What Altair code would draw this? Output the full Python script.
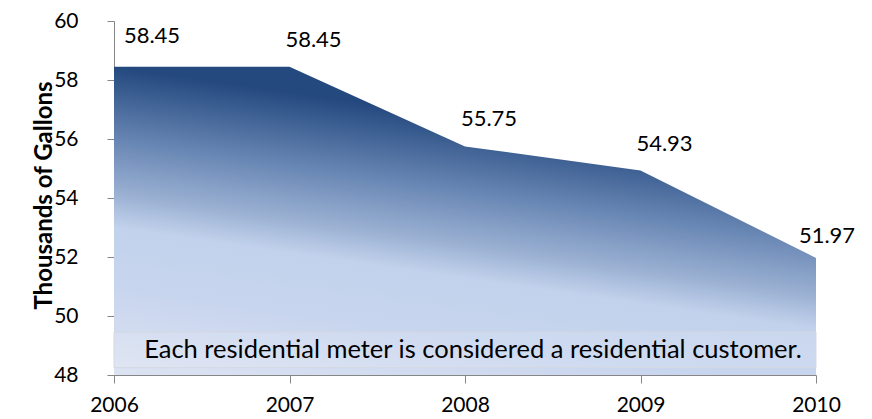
import altair as alt
import pandas as pd

years = [2006, 2007, 2008, 2009, 2010]
values = [58.45, 58.45, 55.75, 54.93, 51.97]
labels = ["58.45", "58.45", "55.75", "54.93", "51.97"]
y_ticks = [48, 50, 52, 54, 56, 58, 60]
y_title = "Thousands of Gallons"
note_text = "Each residential meter is considered a residential customer."
note_y = [48.25, 49.45]

FONT = "Lato"

df = pd.DataFrame({"year": years, "value": values, "label": labels})
note_df = pd.DataFrame({"x": [years[0]], "x2": [years[-1]], "y": [note_y[0]], "y2": [note_y[1]],
                        "xm": [(years[0] + years[-1]) / 2], "ym": [(note_y[0] + note_y[1]) / 2],
                        "text": [note_text]})

xscale = alt.Scale(domain=[years[0], years[-1]], nice=False, zero=False)
yscale = alt.Scale(domain=[y_ticks[0], y_ticks[-1]], nice=False, zero=False)

x_enc = alt.X("year:Q", scale=xscale,
              axis=alt.Axis(values=years, format="d", title=None, grid=False,
                            labelFontSize=21, labelFont=FONT, labelColor="#000000",
                            labelPadding=11, tickSize=8, tickColor="#868686",
                            domainColor="#868686", labelFlush=False))
y_enc = alt.Y("value:Q", scale=yscale,
              axis=alt.Axis(values=y_ticks, title=y_title, grid=False,
                            labelFontSize=21, labelFont=FONT, labelColor="#000000",
                            labelPadding=29, tickSize=7, tickColor="#868686",
                            domainColor="#868686",
                            titleFont=FONT, titleFontSize=24, titleFontWeight="bold",
                            titleColor="#000000", titleAngle=-90, titleX=-70, titleY=174,
                            titleAlign="center", titleBaseline="middle"))

grad = alt.Gradient(
    gradient="linear",
    stops=[
        alt.GradientStop(color="#24497F", offset=0.0),
        alt.GradientStop(color="#6A88B5", offset=0.22),
        alt.GradientStop(color="#9AB0D2", offset=0.37),
        alt.GradientStop(color="#C2D2EC", offset=0.47),
        alt.GradientStop(color="#C8D5EE", offset=0.65),
        alt.GradientStop(color="#DCE3F2", offset=0.9),
        alt.GradientStop(color="#E0E6F3", offset=1.0),
    ],
    x1=0, y1=0, x2=-0.33, y2=1,
)

base = alt.Chart(df)
area = base.mark_area(color=grad, line=False).encode(x=x_enc, y=y_enc, y2=alt.datum(y_ticks[0]))

def lbl(filter_expr, dx, dy):
    return base.transform_filter(filter_expr).mark_text(
        font=FONT, fontSize=22, color="#000000", dx=dx, dy=dy, align="center", baseline="middle"
    ).encode(x=alt.X("year:Q", scale=xscale), y=alt.Y("value:Q", scale=yscale), text="label:N")

first_lbl = lbl(f"datum.year == {years[0]}", 38, -31)
mid_lbl = lbl(f"datum.year > {years[0]} && datum.year < {years[-1]}", 24, -27)
last_lbl = lbl(f"datum.year == {years[-1]}", 11, -22)

nbase = alt.Chart(note_df)
note_box = nbase.mark_rect(fill="#FFFFFF", fillOpacity=0.12, stroke="#D4D9E2", strokeWidth=1).encode(
    x=alt.X("x:Q", scale=xscale), x2="x2:Q", y=alt.Y("y:Q", scale=yscale), y2="y2:Q")
note_txt = nbase.mark_text(font=FONT, fontSize=25.5, color="#000000", dx=8, align="center",
                           baseline="middle").encode(
    x=alt.X("xm:Q", scale=xscale), y=alt.Y("ym:Q", scale=yscale), text="text:N")

chart = alt.layer(area, note_box, note_txt, first_lbl, mid_lbl, last_lbl).properties(
    width=702, height=354,
    autosize=alt.AutoSizeParams(type="none"),
    padding={"left": 106, "top": 13, "right": 48, "bottom": 44},
    background="#FFFFFF",
).configure_view(stroke=None)

chart.save("out.html", embed_options={"renderer": "svg", "actions": False})
